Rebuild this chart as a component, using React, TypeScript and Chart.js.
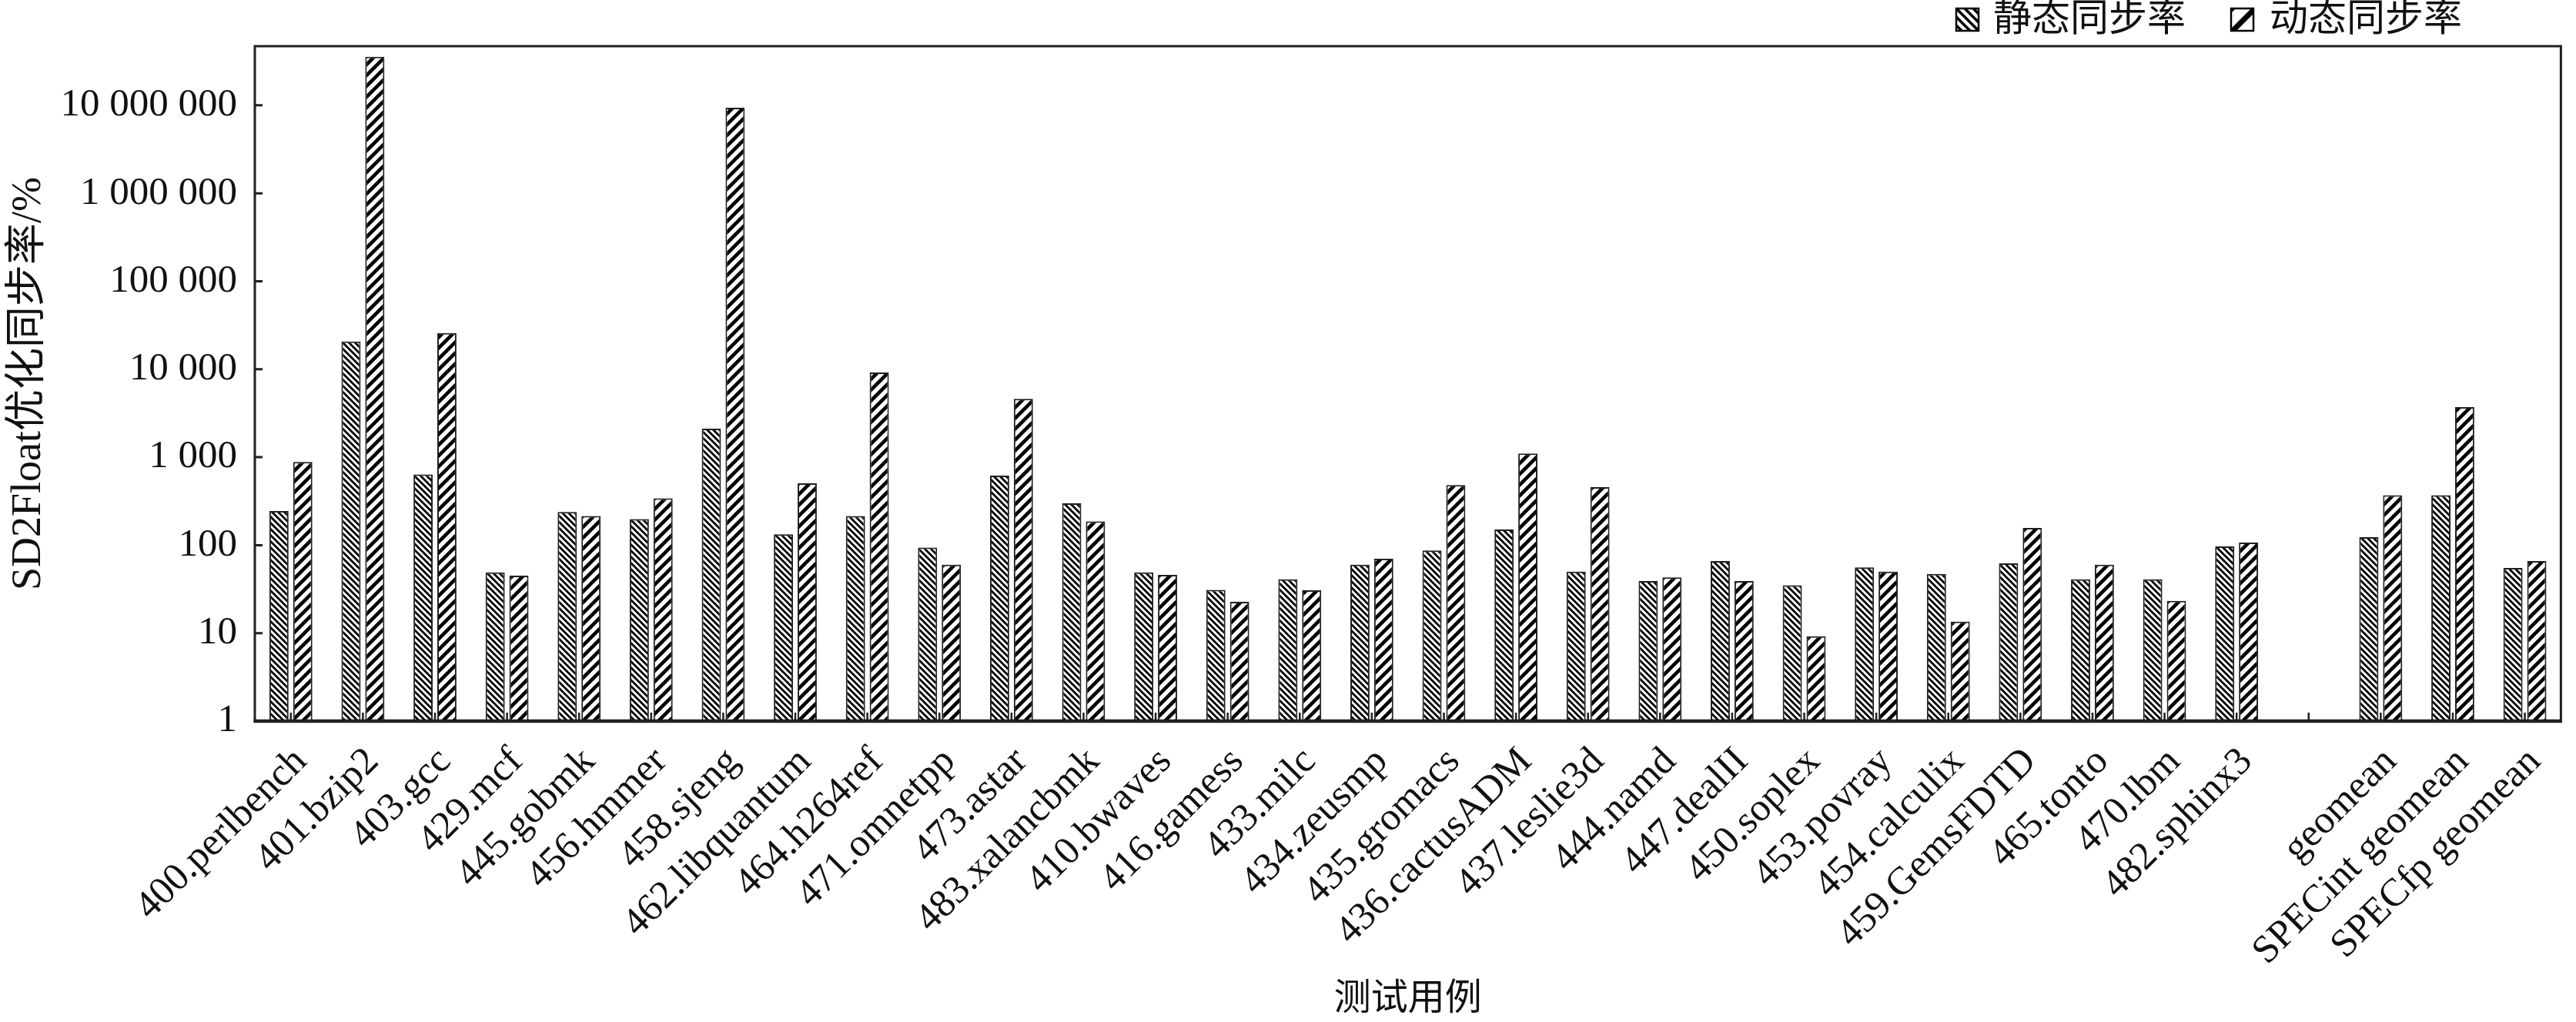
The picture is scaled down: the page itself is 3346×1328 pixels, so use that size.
import React, { useEffect, useRef } from 'react';
import { Chart, registerables } from 'chart.js';

Chart.register(...registerables);

const categories = [
  '400.perlbench', '401.bzip2', '403.gcc', '429.mcf', '445.gobmk', '456.hmmer',
  '458.sjeng', '462.libquantum', '464.h264ref', '471.omnetpp', '473.astar',
  '483.xalancbmk', '410.bwaves', '416.gamess', '433.milc', '434.zeusmp',
  '435.gromacs', '436.cactusADM', '437.leslie3d', '444.namd', '447.dealII',
  '450.soplex', '453.povray', '454.calculix', '459.GemsFDTD', '465.tonto',
  '470.lbm', '482.sphinx3', '', 'geomean', 'SPECint geomean', 'SPECfp geomean',
];

const staticRate = [
  244, 20650, 638, 49, 238, 198, 2105, 133, 214, 94, 618, 299,
  49, 31, 41, 60, 87, 151, 50, 39, 66, 35, 56, 47, 62, 41, 41, 97,
  null, 123, 370, 55,
];

const dynamicRate = [
  883, 35700000, 25760, 45, 214, 341, 9400000, 506, 9190, 60, 4600, 186,
  46, 22.7, 30.7, 70, 483, 1104, 456, 43, 39, 9.2, 50, 13.5, 157, 60, 23.3, 107,
  null, 370, 3700, 66,
];

const yTickValues = [1, 10, 100, 1000, 10000, 100000, 1000000, 10000000];
const yMax = 47000000;
const seriesNames = ['静态同步率', '动态同步率'];
const xTitle = '测试用例';
const yTitle = 'SD2Float优化同步率/%';

const FONT = '"Liberation Serif", "Times New Roman", "Noto Sans CJK SC", serif';
const INK = '#231f20';
const W = 3346;
const H = 1328;

function makePattern(kind: 'back' | 'fwd', size: number, lw: number): CanvasPattern | string {
  const c = document.createElement('canvas');
  c.width = size;
  c.height = size;
  const g = c.getContext('2d');
  if (!g) return '#888';
  g.fillStyle = '#ffffff';
  g.fillRect(0, 0, size, size);
  g.strokeStyle = '#000000';
  g.lineWidth = lw;
  g.lineCap = 'butt';
  g.beginPath();
  for (let k = -1; k <= 1; k++) {
    if (kind === 'back') {
      g.moveTo(k * size - size, -size);
      g.lineTo(k * size + 2 * size, 2 * size);
    } else {
      g.moveTo(k * size - size, 2 * size);
      g.lineTo(k * size + 2 * size, -size);
    }
  }
  g.stroke();
  const p = g.createPattern(c, 'repeat');
  return p || '#888';
}

function fmt(v: number): string {
  return String(Math.round(v)).replace(/\B(?=(\d{3})+(?!\d))/g, ' ');
}

export default function App() {
  const ref = useRef<HTMLCanvasElement | null>(null);

  useEffect(() => {
    const canvas = ref.current;
    if (!canvas) return;
    const patStatic = makePattern('back', 8, 2.8);
    const patDynamic = makePattern('fwd', 14, 4.6);
    const legStatic = makePattern('back', 11, 3.6);
    const legDynamic = makePattern('fwd', 30, 7);

    const framePlugin = {
      id: 'framePlugin',
      beforeDatasetsDraw(chart: any) {
        const { ctx, chartArea } = chart;
        const xs = chart.scales.x;
        ctx.save();
        ctx.strokeStyle = INK;
        ctx.lineWidth = 2.5;
        ctx.beginPath();
        for (let i = 0; i < categories.length; i++) {
          const px = xs.getPixelForTick(i);
          ctx.moveTo(px, chartArea.bottom);
          ctx.lineTo(px, chartArea.bottom - 11);
        }
        ctx.stroke();
        ctx.restore();
      },
      afterDraw(chart: any) {
        const { ctx, chartArea } = chart;
        const ys = chart.scales.y;
        ctx.save();
        ctx.strokeStyle = INK;
        ctx.lineWidth = 3;
        ctx.strokeRect(chartArea.left, chartArea.top, chartArea.right - chartArea.left, chartArea.bottom - chartArea.top);
        ctx.lineWidth = 4.5;
        ctx.beginPath();
        ctx.moveTo(chartArea.left - 1.5, chartArea.bottom);
        ctx.lineTo(chartArea.right + 1.5, chartArea.bottom);
        ctx.stroke();
        ctx.lineWidth = 3;
        ctx.beginPath();
        for (const v of yTickValues) {
          if (v === 1) continue;
          const py = ys.getPixelForValue(v);
          ctx.moveTo(chartArea.left, py);
          ctx.lineTo(chartArea.left + 10, py);
        }
        ctx.stroke();
        const items = [
          { box: 2541, text: 2589, fill: legStatic, label: seriesNames[0] },
          { box: 2898, text: 2948, fill: legDynamic, label: seriesNames[1] },
        ];
        ctx.font = `50px ${FONT}`;
        ctx.textBaseline = 'middle';
        ctx.textAlign = 'left';
        for (const it of items) {
          ctx.fillStyle = it.fill as any;
          ctx.fillRect(it.box, 11, 29, 29);
          ctx.lineWidth = 2.5;
          ctx.strokeStyle = '#000';
          ctx.strokeRect(it.box, 11, 29, 29);
          ctx.fillStyle = '#111';
          ctx.fillText(it.label, it.text, 27);
        }
        ctx.restore();
      },
    };

    const chart = new Chart(canvas, {
      type: 'bar',
      data: {
        labels: categories,
        datasets: [
          {
            label: seriesNames[0],
            data: staticRate as any,
            backgroundColor: patStatic as any,
            borderColor: INK,
            borderWidth: 2,
            categoryPercentage: 0.66,
            barPercentage: 0.806,
          },
          {
            label: seriesNames[1],
            data: dynamicRate as any,
            backgroundColor: patDynamic as any,
            borderColor: INK,
            borderWidth: 2,
            categoryPercentage: 0.66,
            barPercentage: 0.806,
          },
        ],
      },
      options: {
        responsive: false,
        animation: false,
        devicePixelRatio: 1,
        layout: { padding: { top: 60, right: 9, bottom: 0, left: 0 } },
        plugins: {
          legend: { display: false },
          tooltip: { enabled: false },
          title: { display: false },
        },
        scales: {
          x: {
            type: 'category',
            grid: { display: false, drawTicks: false },
            border: { display: false },
            ticks: {
              autoSkip: false,
              maxRotation: 45,
              minRotation: 45,
              padding: 23,
              labelOffset: 13,
              color: '#111',
              font: { family: FONT, size: 51 },
            },
            title: {
              display: true,
              text: xTitle,
              color: '#111',
              font: { family: FONT, size: 48 },
              padding: { top: 0, bottom: 0 },
            },
            afterFit(scale: any) {
              scale.height = H - 937;
            },
          },
          y: {
            type: 'logarithmic',
            min: 1,
            max: yMax,
            grid: { display: false, drawTicks: false },
            border: { display: false },
            afterBuildTicks(scale: any) {
              scale.ticks = yTickValues.map((v) => ({ value: v }));
            },
            ticks: {
              padding: 23,
              color: '#111',
              font: { family: FONT, size: 51 },
              callback: (v: any) => fmt(Number(v)),
            },
            title: {
              display: true,
              text: yTitle,
              color: '#111',
              font: { family: FONT, size: 54 },
              padding: { top: 5, bottom: 0 },
            },
            afterFit(scale: any) {
              scale.width = 331;
            },
          },
        },
      },
      plugins: [framePlugin],
    });

    return () => {
      chart.destroy();
    };
  }, []);

  return (
    <div style={{ position: 'absolute', left: 0, top: 0, width: W, height: H, background: '#fff' }}>
      <canvas ref={ref} width={W} height={H} style={{ display: 'block' }} />
    </div>
  );
}
